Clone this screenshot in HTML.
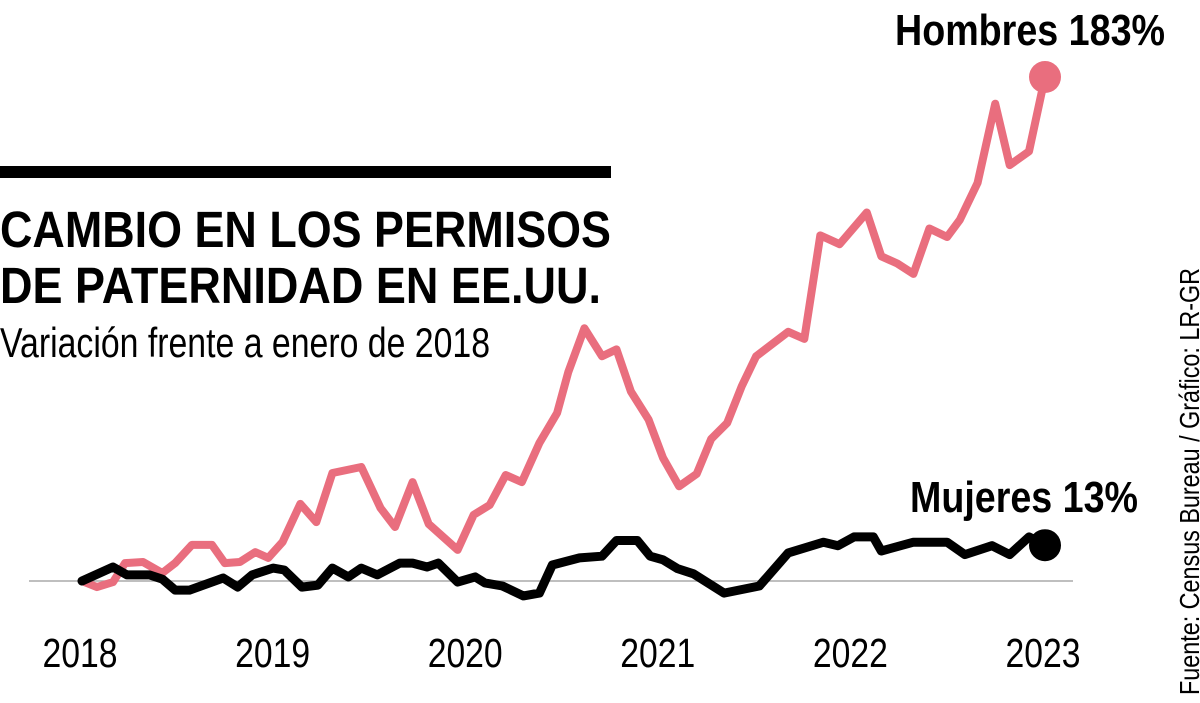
<!DOCTYPE html>
<html><head><meta charset="utf-8"><style>
html,body{margin:0;padding:0;background:#fff;}
svg{display:block;}
text{font-family:"Liberation Sans Narrow","Liberation Sans",sans-serif;}
</style></head><body>
<svg id="chart" width="1200" height="703" viewBox="0 0 1200 703">
<rect x="0" y="166" width="611" height="12" fill="#000"/>
<text x="0" y="247" font-size="51" font-weight="bold" textLength="611" lengthAdjust="spacingAndGlyphs">CAMBIO EN LOS PERMISOS</text>
<text x="0" y="303" font-size="51" font-weight="bold" textLength="601" lengthAdjust="spacingAndGlyphs">DE PATERNIDAD EN EE.UU.</text>
<text x="0" y="357" font-size="42" textLength="490" lengthAdjust="spacingAndGlyphs">Variación frente a enero de 2018</text>
<line x1="29" y1="581" x2="1073" y2="581" stroke="#aaa" stroke-width="1.5"/>
<g id="xaxis"></g>
<g id="series"></g>
<text x="1165" y="45" font-size="44" font-weight="bold" text-anchor="end" textLength="270" lengthAdjust="spacingAndGlyphs">Hombres 183%</text>
<text x="1138" y="512" font-size="44" font-weight="bold" text-anchor="end" textLength="228" lengthAdjust="spacingAndGlyphs">Mujeres 13%</text>
<text transform="translate(1199,695) rotate(-90)" font-size="28" textLength="427" lengthAdjust="spacingAndGlyphs">Fuente: Census Bureau / Gráfico: LR-GR</text>
</svg>
<script>
const yearTicks = [2018, 2019, 2020, 2021, 2022, 2023];
const hombresMonths = [0,0.93,1.93,2.68,3.8,5.0,5.8,6.85,8.1,8.9,9.84,10.8,11.6,12.5,13.6,14.6,15.6,17.4,18.6,19.5,20.6,21.6,23.4,24.4,25.4,26.4,27.4,28.5,29.6,30.3,31.3,32.4,33.3,34.2,35.3,36.2,37.2,38.3,39.2,40.2,41.1,42.0,44.0,45.0,46.0,47.2,48.9,49.8,50.8,51.8,52.8,53.9,54.7,55.8,56.9,57.8,59.0,60];
const hombresValues = [0,-2.2,-0.4,6.5,6.9,2.9,6.5,13.1,13.1,6.5,6.9,10.5,8.4,14.2,28,21.4,39.2,41.4,26.5,19.6,35.9,20.7,11.3,24,27.6,38.5,35.9,50.1,61,75.9,91.8,81.6,84.1,68.8,58.6,44.7,34.4,38.9,51.6,57.4,70.7,81.6,90.5,87.9,125.5,122.3,133.8,117.9,115.3,111.5,128,124.9,131.2,144.6,173.3,151,156,183];
const mujeresMonths = [0,1.93,2.8,4.2,5.0,5.8,6.7,8.8,9.7,10.6,11.9,12.6,13.7,14.7,15.6,16.6,17.4,18.4,19.8,20.6,21.5,22.2,23.4,24.5,25.1,26.2,27.5,28.5,29.3,31.0,32.4,33.3,34.6,35.4,36.2,37.1,38.1,40.0,42.2,44.0,46.2,47.1,48.1,49.3,49.8,51.8,53.9,55.0,56.7,57.8,59.0,60];
const mujeresValues = [0,5.1,2.2,2.2,0.7,-3.3,-3.3,1.1,-2.2,2.2,4.7,4.0,-2.2,-1.5,4.7,1.5,4.7,2.2,6.5,6.5,5.1,6.5,-0.4,1.5,-0.7,-1.8,-5.4,-4.4,5.8,8.4,9.0,14.7,14.7,9.0,7.7,4.5,2.6,-4.4,-1.8,10.2,14.1,12.8,16,16,10.9,14.1,14.1,9.6,12.8,9.6,16,13];

const NS = "http://www.w3.org/2000/svg";
const x = m => 82 + m * (1045 - 82) / 60;
const y = v => 581 - v * 2.754;

const xaxis = document.getElementById('xaxis');
yearTicks.forEach((yr, i) => {
  const t = document.createElementNS(NS, 'text');
  t.setAttribute('x', x(i * 12) - 2);
  t.setAttribute('y', 667);
  t.setAttribute('font-size', '41');
  t.setAttribute('text-anchor', 'middle');
  t.setAttribute('textLength', '75');
  t.setAttribute('lengthAdjust', 'spacingAndGlyphs');
  t.textContent = yr;
  
  
  xaxis.appendChild(t);
});

const series = document.getElementById('series');
function drawLine(ms, vs, color, w, name) {
  const p = document.createElementNS(NS, 'polyline');
  p.setAttribute('points', ms.map((m, i) => x(m).toFixed(1) + ',' + y(vs[i]).toFixed(1)).join(' '));
  p.setAttribute('fill', 'none');
  p.setAttribute('stroke', color);
  p.setAttribute('stroke-width', w);
  p.setAttribute('stroke-linejoin', 'round');
  p.setAttribute('stroke-linecap', 'round');
  
  
  series.appendChild(p);
  const c = document.createElementNS(NS, 'circle');
  const n = ms.length - 1;
  c.setAttribute('cx', x(ms[n]));
  c.setAttribute('cy', y(vs[n]));
  c.setAttribute('r', 16);
  c.setAttribute('fill', color);
  
  
  series.appendChild(c);
}
drawLine(hombresMonths, hombresValues, '#e96e7e', 8, 'hombres');
drawLine(mujeresMonths, mujeresValues, '#000', 9, 'mujeres');
</script>
</body></html>
